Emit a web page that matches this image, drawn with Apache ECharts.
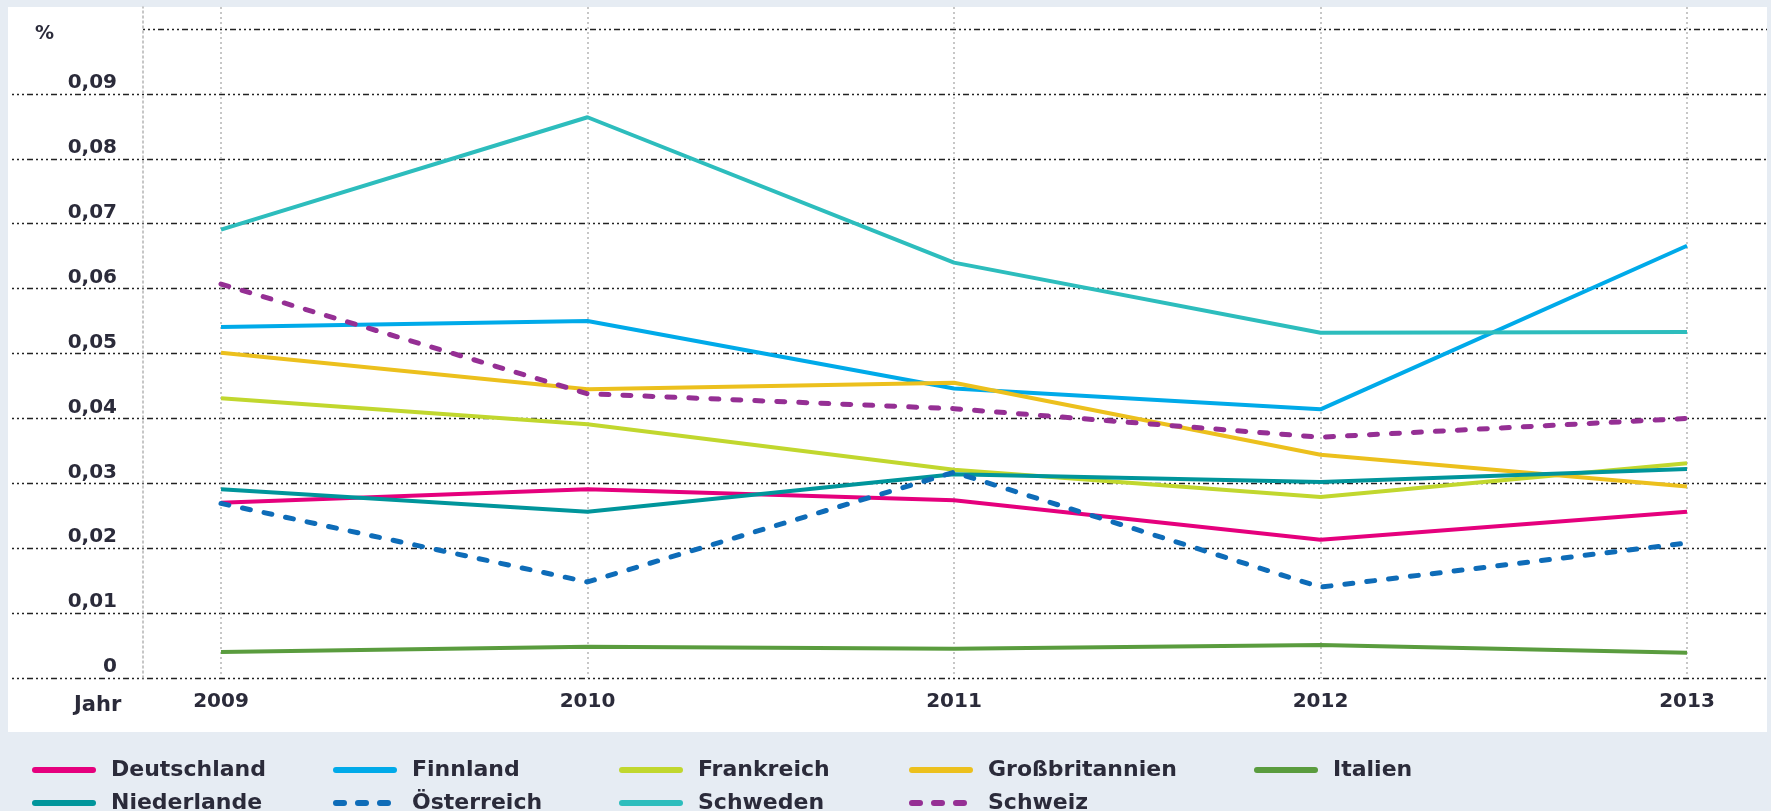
<!DOCTYPE html>
<html>
<head>
<meta charset="utf-8">
<script src="https://cdn.jsdelivr.net/npm/echarts@6/dist/echarts.min.js"></script>
<style>
html,body{margin:0;padding:0;background:#e6ecf3;}
#c{width:1771px;height:811px;}
</style>
</head>
<body>
<div id="c"></div>
<script>
// ---- data ----
const years = ['2009', '2010', '2011', '2012', '2013'];
const deutschland    = [0.0270, 0.0291, 0.0274, 0.0213, 0.0256];
const finnland       = [0.0541, 0.0550, 0.0446, 0.0414, 0.0666];
const frankreich     = [0.0431, 0.0391, 0.0321, 0.0279, 0.0331];
const grossbritannien= [0.0501, 0.0445, 0.0455, 0.0344, 0.0295];
const italien        = [0.0040, 0.0048, 0.0045, 0.0051, 0.0039];
const niederlande    = [0.0291, 0.0256, 0.0314, 0.0302, 0.0322];
const oesterreich    = [0.0269, 0.0148, 0.0317, 0.0140, 0.0208];
const schweden       = [0.0691, 0.0864, 0.0640, 0.0532, 0.0533];
const schweiz        = [0.0607, 0.0438, 0.0415, 0.0371, 0.0400];
const yTicks = [0, 0.01, 0.02, 0.03, 0.04, 0.05, 0.06, 0.07, 0.08, 0.09];
const yMax = 0.1;

const seriesDefs = [
  {name: 'Deutschland', data: deutschland, color: '#e5007d', dashed: false},
  {name: 'Finnland', data: finnland, color: '#00aae9', dashed: false},
  {name: 'Frankreich', data: frankreich, color: '#c1d72e', dashed: false},
  {name: 'Großbritannien', data: grossbritannien, color: '#ecc01d', dashed: false},
  {name: 'Italien', data: italien, color: '#5a9c3e', dashed: false},
  {name: 'Niederlande', data: niederlande, color: '#00959b', dashed: false},
  {name: 'Österreich', data: oesterreich, color: '#0e6cb8', dashed: true},
  {name: 'Schweden', data: schweden, color: '#2dbdbd', dashed: false},
  {name: 'Schweiz', data: schweiz, color: '#952f94', dashed: true}
];

// legend placement (layout)
const legendPos = [
  [32, 759], [333, 759], [619, 759], [909, 759], [1254, 759],
  [32, 792], [333, 792], [619, 792], [909, 792]
];

const FONT = "'DejaVu Sans', sans-serif";
const TXT = '#2b2b3a';
const gridDot = {color: '#222', width: 1.4, type: [2, 3, 2, 3, 2, 3, 6, 3]};
const vDot = {color: '#b5b5b5', width: 1.5, type: [2, 3]};

const chart = echarts.init(document.getElementById('c'), null, {renderer: 'canvas'});

const hiddenX = (gi) => ({type: 'value', gridIndex: gi, show: false, min: 0, max: 1});
const hiddenY = (gi) => ({type: 'value', gridIndex: gi, show: false, min: 0, max: 1});

const option = {
  backgroundColor: '#e6ecf3',
  animation: false,
  title: [
    {text: '%', left: 30, top: 20, textStyle: {fontFamily: FONT, fontSize: 19, fontWeight: 'bold', color: TXT}},
    {text: 'Jahr', left: 69, top: 690, textStyle: {fontFamily: FONT, fontSize: 21, fontWeight: 'bold', color: TXT}}
  ],
  grid: [
    {left: 8, top: 7, right: 4, bottom: 79, show: true, backgroundColor: '#ffffff', borderWidth: 0},
    {left: 12, top: 29, right: 4, bottom: 133},
    {left: 143, top: 29, right: 4, bottom: 133},
    {left: 221, top: 7, right: 84, bottom: 133},
    {left: 143, top: 7, width: 20, bottom: 133},
    {left: 221, top: 29, right: 84, bottom: 133}
  ],
  xAxis: [
    hiddenX(0),
    hiddenX(1),
    hiddenX(2),
    {type: 'category', gridIndex: 3, data: years, boundaryGap: false,
     axisLine: {show: false}, axisTick: {show: false}, axisLabel: {show: false},
     splitLine: {show: true, lineStyle: vDot}},
    hiddenX(4),
    {type: 'category', gridIndex: 5, data: years, boundaryGap: false,
     axisLine: {show: false}, axisTick: {show: false},
     axisLabel: {margin: 14, fontFamily: FONT, fontSize: 20, fontWeight: 'bold', color: TXT},
     splitLine: {show: false}}
  ],
  yAxis: [
    hiddenY(0),
    {type: 'value', gridIndex: 1, min: 0, max: yMax, interval: 0.01,
     axisLine: {show: false}, axisTick: {show: false}, axisLabel: {show: false},
     splitLine: {show: true, showMaxLine: false, lineStyle: gridDot}},
    {type: 'value', gridIndex: 2, min: 0, max: yMax, interval: yMax,
     axisLine: {show: false}, axisTick: {show: false}, axisLabel: {show: false},
     splitLine: {show: true, showMinLine: false, lineStyle: gridDot}},
    hiddenY(3),
    {type: 'value', gridIndex: 4, min: 0, max: 1, position: 'left',
     axisLine: {show: true, lineStyle: vDot}, axisTick: {show: false}, axisLabel: {show: false},
     splitLine: {show: false}},
    {type: 'value', gridIndex: 5, min: 0, max: yMax, interval: 0.01,
     axisLine: {show: false}, axisTick: {show: false}, splitLine: {show: false},
     axisLabel: {
       showMaxLabel: false,
       margin: 104, verticalAlign: 'bottom', padding: [0, 0, 1, 0],
       fontFamily: FONT, fontSize: 20, fontWeight: 'bold', color: TXT,
       formatter: (v) => {
         const t = yTicks.find(x => Math.abs(x - v) < 1e-9);
         if (t === undefined) return '';
         return t === 0 ? '0' : t.toFixed(2).replace('.', ',');
       }
     }}
  ],
  legend: seriesDefs.map((s, i) => ({
    data: [s.name],
    left: legendPos[i][0], top: legendPos[i][1],
    padding: 0,
    itemWidth: 58, itemHeight: 2,
    selectedMode: false,
    itemStyle: {opacity: 0},
    lineStyle: {width: 6, cap: 'round'},
    textStyle: {fontFamily: FONT, fontSize: 22, fontWeight: 'bold', color: TXT, padding: [0, 0, 0, 13]}
  })),
  series: seriesDefs.map(s => ({
    name: s.name,
    type: 'line',
    xAxisIndex: 5, yAxisIndex: 5,
    data: s.data,
    symbol: 'none',
    color: s.color,
    lineStyle: s.dashed
      ? {width: 5, color: s.color, type: [8, 14], cap: 'round'}
      : {width: 4, color: s.color},
    z: 5
  }))
};
chart.setOption(option);
</script>
</body>
</html>
